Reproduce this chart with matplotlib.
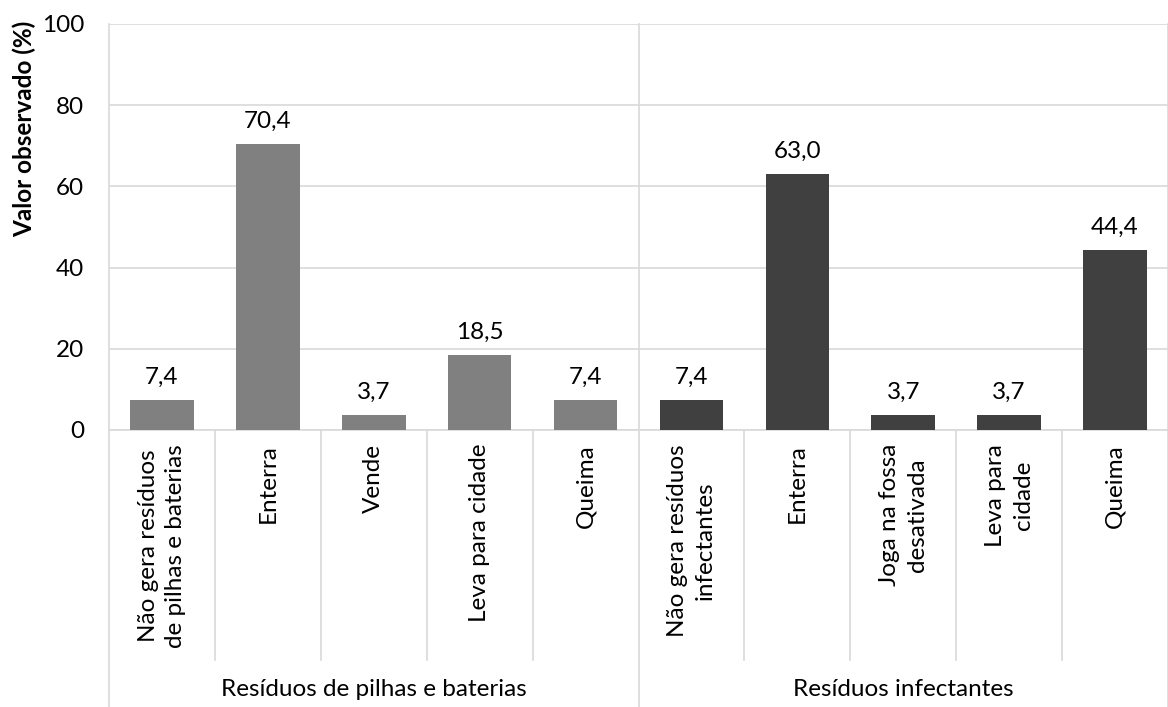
import matplotlib
matplotlib.use("Agg")
import matplotlib.pyplot as plt

# dados
categorias = ["Não gera resíduos\nde pilhas e baterias", "Enterra", "Vende",
              "Leva para cidade", "Queima",
              "Não gera resíduos\ninfectantes", "Enterra", "Joga na fossa\ndesativada",
              "Leva para\ncidade", "Queima"]
valores = [7.4, 70.4, 3.7, 18.5, 7.4, 7.4, 63.0, 3.7, 3.7, 44.4]
grupos = ["Resíduos de pilhas e baterias", "Resíduos infectantes"]
tamanho_grupo = 5
cores_grupo = ["#808080", "#404040"]

plt.rcParams['font.family'] = ['Lato', 'DejaVu Sans']
fs = 17.5

fig = plt.figure(figsize=(11.68, 7.07), dpi=100)
ax = fig.add_axes([109/1168, 1-430/707, 1-109/1168, 406/707])

x = list(range(len(valores)))
cores = [cores_grupo[i // tamanho_grupo] for i in x]
ax.bar(x, valores, width=0.6, color=cores, zorder=3)

for xi, v in zip(x, valores):
    ax.text(xi, v + 3, f"{v:.1f}".replace(".", ","), ha="center", va="bottom", fontsize=fs)

ax.set_xlim(-0.5, len(valores) - 0.5)
ax.set_ylim(0, 100)
ax.set_yticks([0, 20, 40, 60, 80, 100])
ax.tick_params(axis="y", length=0, pad=18, labelsize=fs)
ax.set_xticks([])
ax.yaxis.grid(True, color="#d9d9d9", linewidth=1.2, zorder=0)
for s in ["top", "right", "left"]:
    ax.spines[s].set_visible(False)
ax.spines["bottom"].set_color("#d9d9d9")
ax.spines["bottom"].set_linewidth(1.2)

trans = ax.get_xaxis_transform()
fundo_cat = (430 - 660) / 406
fundo = (430 - 720) / 406

# linhas separadoras do eixo de categorias
for i in range(len(valores) + 1):
    if i % tamanho_grupo == 0:
        ax.plot([i - 0.5, i - 0.5], [1, fundo], color="#d9d9d9", lw=1.2,
                transform=trans, clip_on=False)
    else:
        ax.plot([i - 0.5, i - 0.5], [0, fundo_cat], color="#d9d9d9", lw=1.2,
                transform=trans, clip_on=False)

for xi, lab in zip(x, categorias):
    ax.text(xi, -14 / 406, lab, rotation=90, ha="center", va="top",
            multialignment="center", fontsize=fs, transform=trans, linespacing=1.4)

for g, nome in enumerate(grupos):
    centro = g * tamanho_grupo + (tamanho_grupo - 1) / 2
    ax.text(centro, (430 - 690) / 406, nome, ha="center", va="center",
            fontsize=fs, transform=trans)

fig.text(24/1168, 1 - 129/707, "Valor observado (%)", rotation=90, ha="center",
         va="center", fontsize=fs, fontweight="bold")

plt.savefig("out.png", dpi=100)
